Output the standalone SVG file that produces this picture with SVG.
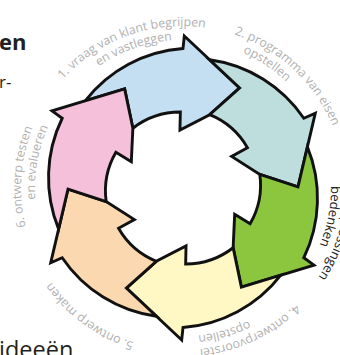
<svg xmlns="http://www.w3.org/2000/svg" xmlns:xlink="http://www.w3.org/1999/xlink" width="340" height="355" viewBox="0 0 340 355">
<style>
.arrow{stroke:#111111;stroke-width:2.9;stroke-linejoin:miter;stroke-miterlimit:8}
.lbl{font-family:"Open Sans","Noto Sans",sans-serif;font-size:12.3px;fill:#b0b0b0}
.lbl3{font-family:"Open Sans","Noto Sans",sans-serif;font-size:13px;fill:#222222}
.page{font-family:"Open Sans","Noto Sans",sans-serif;fill:#231f20}
</style>
<defs>
<path id="arrowShape" d="M -97.79 -87.16 A 136 136 0 0 1 0 -139.5 L 1.33 -151.99 L 56.63 -100.1 L 26.68 -73.3 L -3.04 -57.92 L -2.65 -75.95 A 77 77 0 0 0 -50.14 -59.75 L -58.36 -99.08 Z"/>
<path id="r162" d="M 21.62 173.88 A 162 162 0 0 1 344.38 173.88"/>
<path id="r148" d="M 35.56 175.1 A 148 148 0 0 1 330.44 175.1"/>
</defs>
<rect width="340" height="355" fill="#ffffff"/>
<g id="page-text">
<text class="page" x="-1" y="50" font-size="22" font-weight="bold">en</text>
<text class="page" x="-1" y="88" font-size="17">r-</text>
<text class="page" x="-1" y="358" font-size="23.5">ideeën</text>
</g>
<g id="step1">
<use xlink:href="#arrowShape" class="arrow" fill="#c4dff2" transform="translate(183 188)"/>
<text class="lbl" text-anchor="middle" transform="rotate(-20 183 188)"><textPath xlink:href="#r162" startOffset="50%">1. vraag van klant begrijpen</textPath></text>
<text class="lbl" text-anchor="middle" transform="rotate(-19.5 183 188)"><textPath xlink:href="#r148" startOffset="50%">en vastleggen</textPath></text>
</g>
<g id="step2">
<use xlink:href="#arrowShape" class="arrow" fill="#bededd" transform="translate(183 188) rotate(60)"/>
<text class="lbl" text-anchor="middle" transform="rotate(43 183 188)"><textPath xlink:href="#r162" startOffset="50%">2. programma van eisen</textPath></text>
<text class="lbl" text-anchor="middle" transform="rotate(34 183 188)"><textPath xlink:href="#r148" startOffset="50%">opstellen</textPath></text>
</g>
<g id="step3">
<use xlink:href="#arrowShape" class="arrow" fill="#8cc63f" transform="translate(183 188) rotate(120)"/>
<text class="lbl3" text-anchor="middle" transform="rotate(108 183 188)"><textPath xlink:href="#r162" startOffset="50%">3. oplossingen</textPath></text>
<text class="lbl3" text-anchor="middle" transform="rotate(101 183 188)"><textPath xlink:href="#r148" startOffset="50%">bedenken</textPath></text>
</g>
<g id="step4">
<use xlink:href="#arrowShape" class="arrow" fill="#fff8c4" transform="translate(183 188) rotate(180)"/>
<text class="lbl" text-anchor="middle" transform="rotate(155 183 188)"><textPath xlink:href="#r162" startOffset="50%">4. ontwerpvoorstel</textPath></text>
<text class="lbl" text-anchor="middle" transform="rotate(164 183 188)"><textPath xlink:href="#r148" startOffset="50%">opstellen</textPath></text>
</g>
<g id="step5">
<use xlink:href="#arrowShape" class="arrow" fill="#fcd8b0" transform="translate(183 188) rotate(240)"/>
<text class="lbl" text-anchor="middle" transform="rotate(216 183 188)"><textPath xlink:href="#r162" startOffset="50%">5. ontwerp maken</textPath></text>
</g>
<g id="step6">
<use xlink:href="#arrowShape" class="arrow" fill="#f4c0da" transform="translate(183 188) rotate(300)"/>
<text class="lbl" text-anchor="middle" transform="rotate(274 183 188)"><textPath xlink:href="#r162" startOffset="50%">6. ontwerp testen</textPath></text>
<text class="lbl" text-anchor="middle" transform="rotate(280 183 188)"><textPath xlink:href="#r148" startOffset="50%">en evalueren</textPath></text>
</g>
</svg>
